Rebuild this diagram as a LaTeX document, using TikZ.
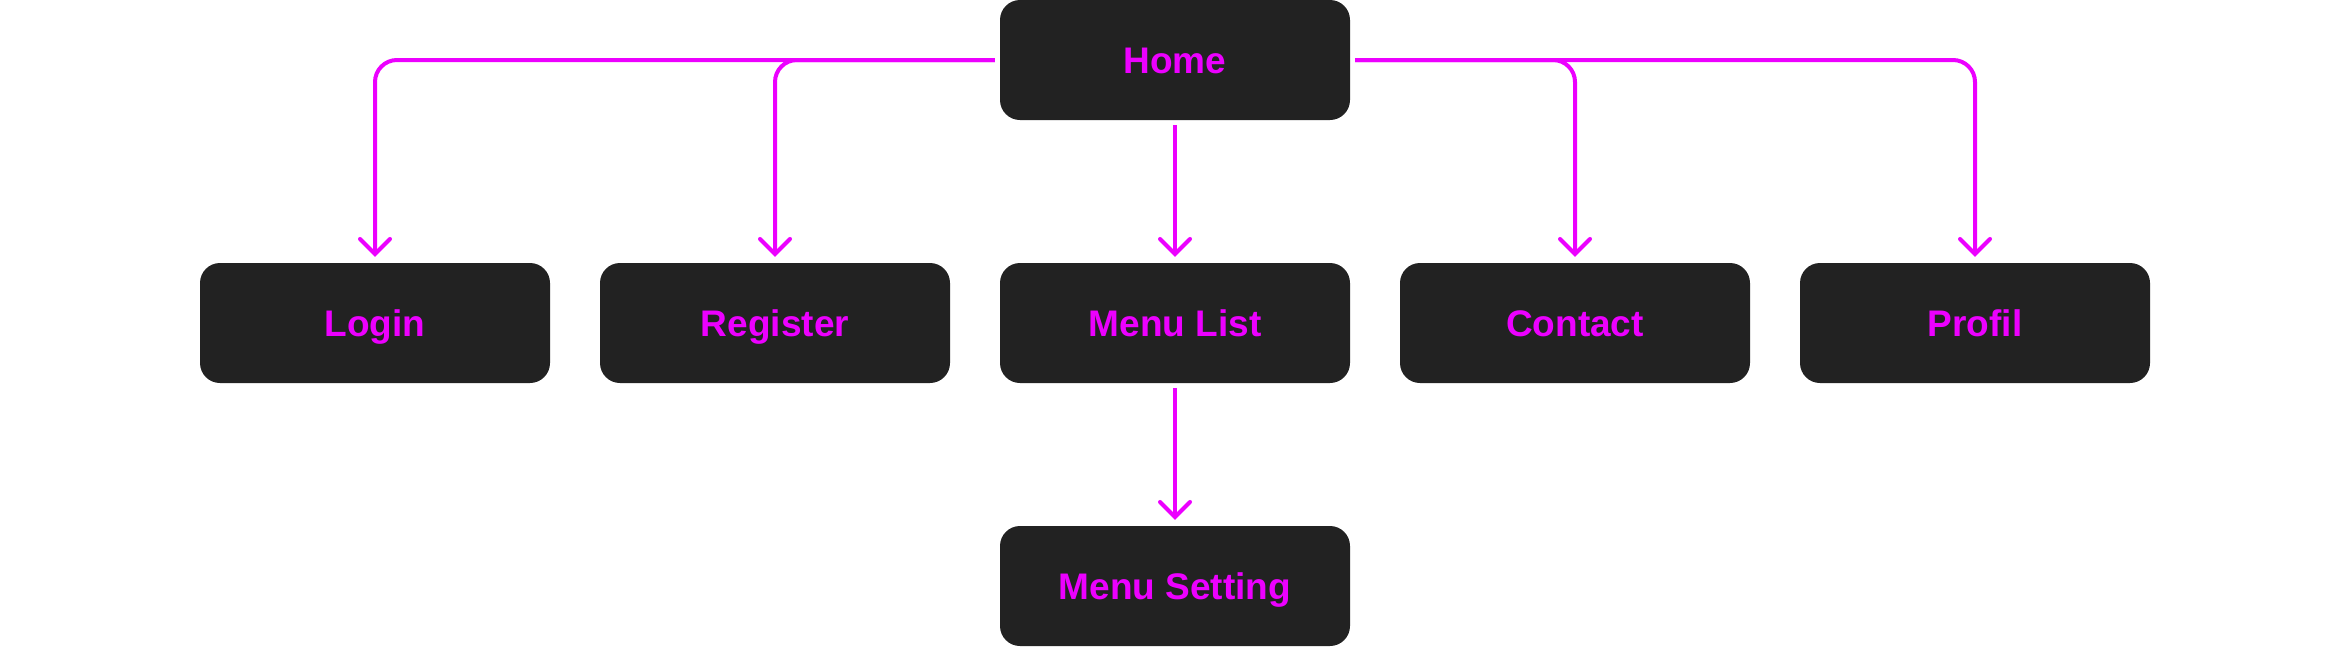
\documentclass[tikz,border=0pt]{standalone}
\usepackage{fontspec}
\setmainfont{Liberation Sans}
\usetikzlibrary{arrows.meta}
\definecolor{boxgray}{HTML}{222222}
\definecolor{mag}{HTML}{EC00FF}

\begin{document}
\begin{tikzpicture}[x=1pt,y=-1pt,>={Straight Barb[length=15pt,width=30pt,line cap=round]},
 page/.style={fill=boxgray,rounded corners=20pt,minimum width=350pt,minimum height=120pt,
  text=mag,text height=27pt,text depth=0pt,font=\fontsize{37}{40}\selectfont\bfseries},
 link/.style={draw=mag,line width=4pt,->,rounded corners=22pt,shorten <=5pt,shorten >=6pt}]
 \useasboundingbox (0,0) rectangle (2350,646);
 % pages
 \node[page] (home) at (1175,60) {Home};
 \node[page] (login) at (375,323) {Login};
 \node[page] (register) at (775,323) {Register};
 \node[page] (menulist) at (1175,323) {Menu List};
 \node[page] (contact) at (1575,323) {Contact};
 \node[page] (profil) at (1975,323) {Profil};
 \node[page] (menuset) at (1175,586) {Menu Setting};
 % links
 \draw[link] (home.west) -| (login.north);
 \draw[link] (home.west) -| (register.north);
 \draw[link] (home.east) -| (contact.north);
 \draw[link] (home.east) -| (profil.north);
 \draw[link] (home.south) -- (menulist.north);
 \draw[link] (menulist.south) -- (menuset.north);
\end{tikzpicture}
\end{document}
